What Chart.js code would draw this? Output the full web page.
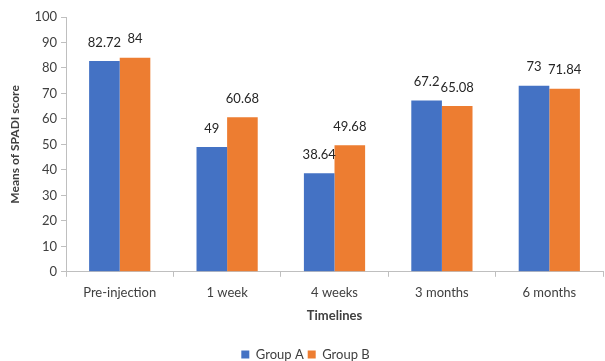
<!DOCTYPE html>
<html lang="en">
<head>
    <meta charset="UTF-8">
    <script src="https://cdn.jsdelivr.net/npm/chart.js"></script>
    <title>SPADI score</title>
    <style>
        body { margin: 0; background: #fff; }
    </style>
</head>
<body>
    <canvas id="grafico" width="605" height="361"></canvas>
<script>
    const timelines = ['Pre-injection', '1 week', '4 weeks', '3 months', '6 months'];
    const grupoA = [82.72, 49, 38.64, 67.2, 73];
    const grupoB = [84, 60.68, 49.68, 65.08, 71.84];
    const yTicks = [0, 10, 20, 30, 40, 50, 60, 70, 80, 90, 100];

    const fonte = 'Lato, "Open Sans", sans-serif';

    // escreve o valor em cima de cada barra
    const rotulos = {
        id: 'rotulos',
        afterDatasetsDraw(chart) {
            const ctx = chart.ctx;
            ctx.save();
            ctx.font = '13px ' + fonte;
            ctx.fillStyle = '#262626';
            ctx.textAlign = 'center';
            ctx.textBaseline = 'bottom';
            chart.data.datasets.forEach((ds, i) => {
                chart.getDatasetMeta(i).data.forEach((bar, j) => {
                    ctx.fillText(String(ds.data[j]), bar.x, bar.y - 12);
                });
            });
            ctx.restore();
        }
    };

    const ctx = document.getElementById('grafico').getContext('2d');
    new Chart(ctx, {
        type: 'bar',
        data: {
            labels: timelines,
            datasets: [{
                label: 'Group A',
                data: grupoA,
                backgroundColor: '#4472C4'
            }, {
                label: 'Group B',
                data: grupoB,
                backgroundColor: '#ED7D31'
            }]
        },
        options: {
            responsive: false,
            animation: false,
            categoryPercentage: 0.57,
            barPercentage: 1,
            layout: { padding: { top: 17, right: 2, left: 8, bottom: -10 } },
            plugins: {
                legend: {
                    position: 'bottom',
                    labels: {
                        boxWidth: 8,
                        boxHeight: 8,
                        padding: 4,
                        color: '#404040',
                        font: { family: fonte, size: 13 }
                    }
                },
                tooltip: { enabled: false }
            },
            scales: {
                x: {
                    grid: {
                        drawOnChartArea: false,
                        drawTicks: true,
                        tickLength: 5,
                        color: '#bfbfbf'
                    },
                    border: { color: '#bfbfbf' },
                    ticks: {
                        color: '#404040',
                        padding: 8,
                        font: { family: fonte, size: 13 }
                    },
                    title: {
                        display: true,
                        text: 'Timelines',
                        color: '#404040',
                        padding: { top: 0, bottom: 20 },
                        font: { family: fonte, size: 13, weight: 'bold' }
                    }
                },
                y: {
                    min: 0,
                    max: 100,
                    afterBuildTicks: axis => { axis.ticks = yTicks.map(v => ({ value: v })); },
                    grid: {
                        drawOnChartArea: false,
                        drawTicks: true,
                        tickLength: 5,
                        color: '#bfbfbf'
                    },
                    border: { color: '#bfbfbf' },
                    ticks: {
                        color: '#404040',
                        padding: 4,
                        font: { family: fonte, size: 13 }
                    },
                    title: {
                        display: true,
                        text: 'Means of SPADI score',
                        color: '#404040',
                        padding: { top: 0, bottom: 8 },
                        font: { family: fonte, size: 12, weight: 'bold' }
                    }
                }
            }
        },
        plugins: [rotulos]
    });
</script>
</body>
</html>
